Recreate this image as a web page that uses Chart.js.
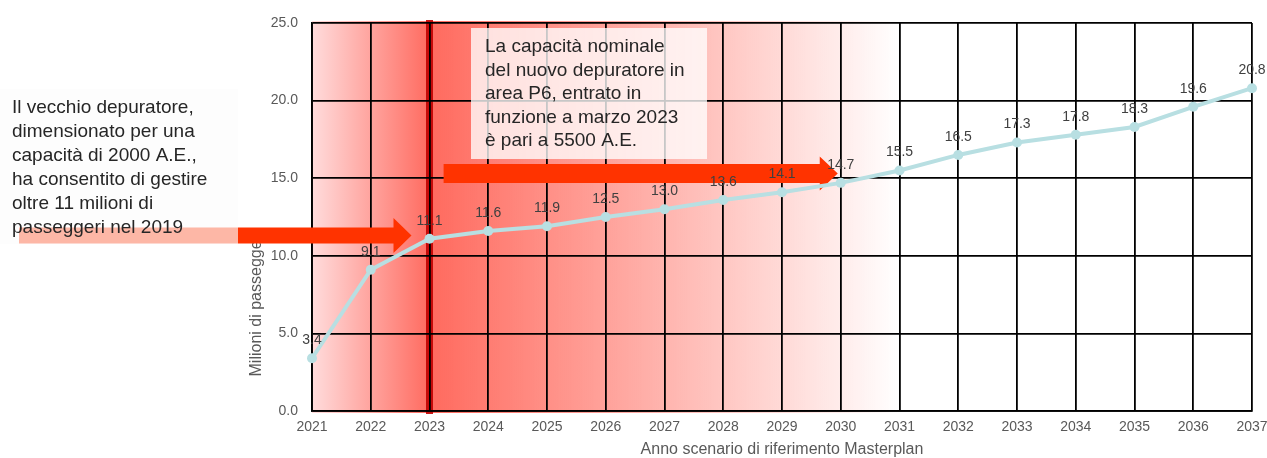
<!DOCTYPE html>
<html lang="it">
<head>
<meta charset="utf-8">
<title>Milioni di passeggeri per anno scenario</title>
<script src="https://cdn.jsdelivr.net/npm/chart.js@4/dist/chart.umd.min.js"></script>
<style>
  html, body { margin: 0; padding: 0; background: #fff; }
  canvas { display: block; }
</style>
</head>
<body>
<canvas id="passeggeriChart" width="1267" height="458"></canvas>
<script>
const years = ['2021', '2022', '2023', '2024', '2025', '2026', '2027', '2028', '2029',
  '2030', '2031', '2032', '2033', '2034', '2035', '2036', '2037'];
const passengers = [3.4, 9.1, 11.1, 11.6, 11.9, 12.5, 13.0, 13.6, 14.1,
  14.7, 15.5, 16.5, 17.3, 17.8, 18.3, 19.6, 20.8];

const oldPlantNote = [
  'Il vecchio depuratore,',
  'dimensionato per una',
  'capacità di 2000 A.E.,',
  'ha consentito di gestire',
  'oltre 11 milioni di',
  'passeggeri nel 2019'
];
const newPlantNote = [
  'La capacità nominale',
  'del nuovo depuratore in',
  'area P6, entrato in',
  'funzione a marzo 2023',
  'è pari a 5500 A.E.'
];

const FONT = "'Liberation Sans', Arial, sans-serif";
const ARROW_RED = '#ff3300';

function drawArrow(ctx, xs, xe, yc, shaftH, headH, headL) {
  ctx.beginPath();
  ctx.moveTo(xs, yc - shaftH / 2);
  ctx.lineTo(xe - headL, yc - shaftH / 2);
  ctx.lineTo(xe - headL, yc - headH / 2);
  ctx.lineTo(xe, yc);
  ctx.lineTo(xe - headL, yc + headH / 2);
  ctx.lineTo(xe - headL, yc + shaftH / 2);
  ctx.lineTo(xs, yc + shaftH / 2);
  ctx.closePath();
  ctx.fillStyle = ARROW_RED;
  ctx.fill();
}

function drawNote(ctx, lines, x, y, lineH) {
  ctx.fillStyle = '#262626';
  ctx.font = '19px ' + FONT;
  ctx.textAlign = 'left';
  ctx.textBaseline = 'middle';
  lines.forEach((l, i) => ctx.fillText(l, x, y + i * lineH));
}

// red shading before / after the new plant start (2023)
const redBand = {
  id: 'redBand',
  beforeDraw(chart) {
    const { ctx, chartArea: a, scales: { x } } = chart;
    const x0 = x.getPixelForValue(0);
    const x1 = x.getPixelForValue(2);
    const x2 = x.getPixelForValue(10);
    const top = a.top - 2;
    const h = a.bottom - a.top + 4;
    ctx.save();
    let g = ctx.createLinearGradient(x0, 0, x1, 0);
    g.addColorStop(0, '#ffdcdc');
    g.addColorStop(1, '#ff6b60');
    ctx.fillStyle = g;
    ctx.fillRect(x0, top, x1 - x0, h);
    g = ctx.createLinearGradient(x1, 0, x2, 0);
    g.addColorStop(0, '#ff6a5e');
    g.addColorStop(1, 'rgba(255,106,94,0)');
    ctx.fillStyle = g;
    ctx.fillRect(x1, top, x2 - x1, h);
    ctx.fillStyle = 'rgba(192,0,0,0.9)';
    ctx.fillRect(x1 - 3.5, a.top - 3, 7, h + 2);
    ctx.restore();
  }
};

// notes, arrows and the y title (drawn under the line)
const notes = {
  id: 'notes',
  beforeDatasetsDraw(chart) {
    const { ctx, scales: { x, y } } = chart;
    ctx.save();

    ctx.save();
    ctx.translate(257, 304);
    ctx.rotate(-Math.PI / 2);
    ctx.fillStyle = '#595959';
    ctx.font = '16px ' + FONT;
    ctx.textAlign = 'center';
    ctx.textBaseline = 'middle';
    ctx.fillText('Milioni di passeggeri', 0, 0);
    ctx.restore();

    // new plant box
    ctx.fillStyle = 'rgba(255,255,255,0.78)';
    ctx.fillRect(471, 28, 236, 131);
    drawNote(ctx, newPlantNote, 485, 47, 23.5);

    drawArrow(ctx, 19, x.getPixelForValue(2) - 18, y.getPixelForValue(11.3), 16, 35, 18);
    drawArrow(ctx, x.getPixelForValue(2.24), x.getPixelForValue(9) - 3, y.getPixelForValue(15.3), 19, 34, 18);

    // old plant box over the first arrow
    ctx.fillStyle = 'rgba(252,252,252,0.66)';
    ctx.fillRect(0, 89, 238, 155);
    drawNote(ctx, oldPlantNote, 12, 108, 24);

    ctx.restore();
  },
  afterDatasetsDraw(chart) {
    const { ctx } = chart;
    const meta = chart.getDatasetMeta(0);
    ctx.save();
    ctx.fillStyle = '#404040';
    ctx.font = '14px ' + FONT;
    ctx.textAlign = 'center';
    ctx.textBaseline = 'middle';
    meta.data.forEach((pt, i) => {
      ctx.fillText(passengers[i].toFixed(1), pt.x, pt.y - 18);
    });
    ctx.restore();
  }
};

const ctx = document.getElementById('passeggeriChart').getContext('2d');
new Chart(ctx, {
  type: 'line',
  data: {
    labels: years,
    datasets: [{
      label: 'Milioni di passeggeri',
      data: passengers,
      borderColor: '#b8dfe2',
      backgroundColor: '#b8dfe2',
      borderWidth: 4,
      pointRadius: 5,
      pointBorderWidth: 0,
      tension: 0
    }]
  },
  options: {
    responsive: false,
    animation: false,
    layout: { padding: { top: 23, right: 15, bottom: 0, left: 0 } },
    plugins: {
      legend: { display: false },
      tooltip: { enabled: false }
    },
    scales: {
      x: {
        offset: false,
        grid: { color: '#000', lineWidth: 1.8, drawTicks: false },
        border: { color: '#000', width: 1.8 },
        ticks: { color: '#595959', font: { family: FONT, size: 14 }, padding: 8, maxRotation: 0, autoSkip: false },
        title: {
          display: true,
          text: 'Anno scenario di riferimento Masterplan',
          color: '#595959',
          font: { family: FONT, size: 16, lineHeight: 1 },
          padding: { top: 2, bottom: 0 }
        },
        afterFit(scale) {
          scale.height = 47;
          scale.paddingLeft = 0;
          scale.paddingRight = 0;
        }
      },
      y: {
        min: 0,
        max: 25,
        grid: { color: '#000', lineWidth: 1.8, drawTicks: false },
        border: { color: '#000', width: 1.8 },
        ticks: {
          stepSize: 5,
          color: '#595959',
          font: { family: FONT, size: 14 },
          padding: 14,
          callback: v => v.toFixed(1)
        },
        afterFit(scale) { scale.width = 312; }
      }
    }
  },
  plugins: [redBand, notes]
});
</script>
</body>
</html>
